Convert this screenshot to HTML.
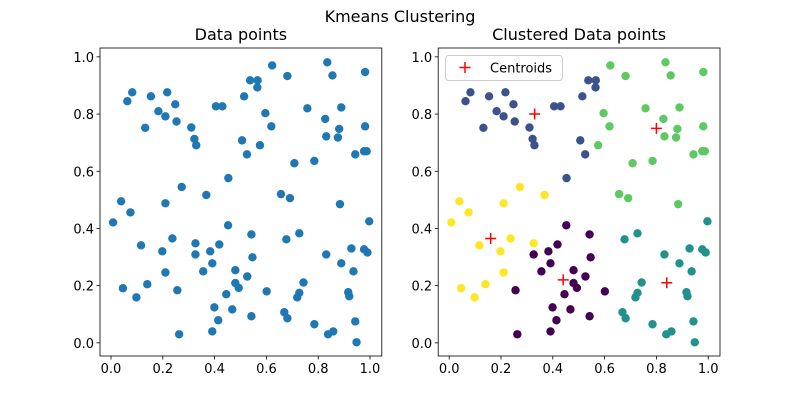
<!DOCTYPE html>
<html><head><meta charset="utf-8"><style>
body{margin:0;background:#fff}
svg text{font-family:"DejaVu Sans","Liberation Sans",sans-serif;fill:#000}
</style></head><body>
<svg id="fig" width="800" height="400" xmlns="http://www.w3.org/2000/svg">
<rect width="800" height="400" fill="#fff"/>
<text x="400" y="22" font-size="16" text-anchor="middle">Kmeans Clustering</text>
<g id="g1"></g>
<g id="g2"></g>
</svg>
<script>
const xs=[.981,.835,.855,.622,.681,.537,.566,.565,.514,.217,.082,.063,.154,.248,.183,.21,.253,.132,.31,.322,.329,.405,.43,.596,.619,.506,.525,.575,.758,.827,.889,.881,.831,.876,.981,.943,.977,.987,.708,.785,.453,.273,.368,.656,.691,.039,
.21,.884,.075,.008,.997,.452,.542,.677,.727,.237,.116,.326,.418,.198,.383,.326,.546,.928,.977,.99,.831,.391,.889,.48,.356,.526,.936,.21,.48,.493,.743,.14,.046,.256,.445,.601,.098,.727,.719,.916,.92,.399,.468,.669,.681,.542,.414,.943,.785,.391,.858,.838,.263,.948];
const ys=[.947,.981,.935,.970,.933,.918,.918,.893,.862,.876,.876,.845,.862,.834,.810,.792,.774,.752,.753,.713,.691,.827,.827,.803,.757,.708,.659,.691,.820,.783,.823,.748,.722,.718,.757,.659,.670,.670,.628,.636,.576,.545,.517,.520,.506,.495,
.488,.485,.456,.421,.425,.411,.379,.362,.383,.365,.341,.348,.344,.320,.320,.309,.299,.330,.327,.316,.309,.278,.278,.254,.250,.232,.250,.246,.209,.192,.211,.205,.191,.184,.170,.180,.159,.175,.159,.177,.163,.124,.117,.107,.086,.093,.079,.075,.065,.040,.040,.030,.030,.002];
const cx=[.44,.33,.84,.80,.16];
const cy=[.22,.80,.21,.75,.365];
const colors=['#440154','#3b528b','#21918c','#5ec962','#fde725'];
const xticks=[0,0.2,0.4,0.6,0.8,1.0];
const yticks=[0,0.2,0.4,0.6,0.8,1.0];
const NS='http://www.w3.org/2000/svg';
function mk(p,t,a){const e=document.createElementNS(NS,t);for(const k in a)e.setAttribute(k,a[k]);p.appendChild(e);return e;}
function panel(g,left,title,clustered){
  const W=281.8,top=48,bot=356,xmin=-0.0425,xmax=1.0455,ymin=-0.046,ymax=1.031;
  const X=v=>left+(v-xmin)/(xmax-xmin)*W, Y=v=>bot-(v-ymin)/(ymax-ymin)*(bot-top);
  let t=mk(g,'text',{x:left+W/2,y:40,'font-size':16,'text-anchor':'middle'});t.textContent=title;
  
  
  xticks.forEach(v=>{mk(g,'line',{x1:X(v),x2:X(v),y1:bot,y2:bot+3.5,stroke:'#000','stroke-width':0.8});
    const l=mk(g,'text',{x:X(v),y:bot+17,'font-size':13,'text-anchor':'middle'});l.textContent=v.toFixed(1);
    
    });
  yticks.forEach(v=>{mk(g,'line',{x1:left-3.5,x2:left,y1:Y(v),y2:Y(v),stroke:'#000','stroke-width':0.8});
    const l=mk(g,'text',{x:left-6,y:Y(v)+5,'font-size':13,'text-anchor':'end'});l.textContent=v.toFixed(1);
    
    });
  xs.forEach((x,i)=>{let fill='#1f77b4';
    if(clustered){let b=0,bd=1e9;cx.forEach((c,k)=>{const d=(x-c)**2+(ys[i]-cy[k])**2;if(d<bd){bd=d;b=k;}});fill=colors[b];}
    const c=mk(g,'circle',{cx:X(x),cy:Y(ys[i]),r:4.2,fill:fill});
    
    });
  if(clustered){
    cx.forEach((c,k)=>{const p=mk(g,'path',{d:`M${X(c)-5.5},${Y(cy[k])}h11M${X(c)},${Y(cy[k])-5.5}v11`,stroke:'red','stroke-width':1.5});
      
      });
    const lg=mk(g,'g',{});
    
    
    mk(lg,'rect',{x:445.5,y:55.5,width:117,height:25,rx:3,fill:'#fff','fill-opacity':0.8,stroke:'#ccc'});
    mk(lg,'path',{d:'M459.5,67.5h11M465,62v11',stroke:'red','stroke-width':1.5});
    const lt=mk(lg,'text',{x:490,y:72.5,'font-size':13});lt.textContent='Centroids';
  }
  mk(g,'rect',{x:left,y:top,width:W,height:bot-top,fill:'none',stroke:'#000','stroke-width':0.8});
}
panel(document.getElementById('g1'),100,'Data points',false);
panel(document.getElementById('g2'),438.2,'Clustered Data points',true);
</script>
</body></html>
